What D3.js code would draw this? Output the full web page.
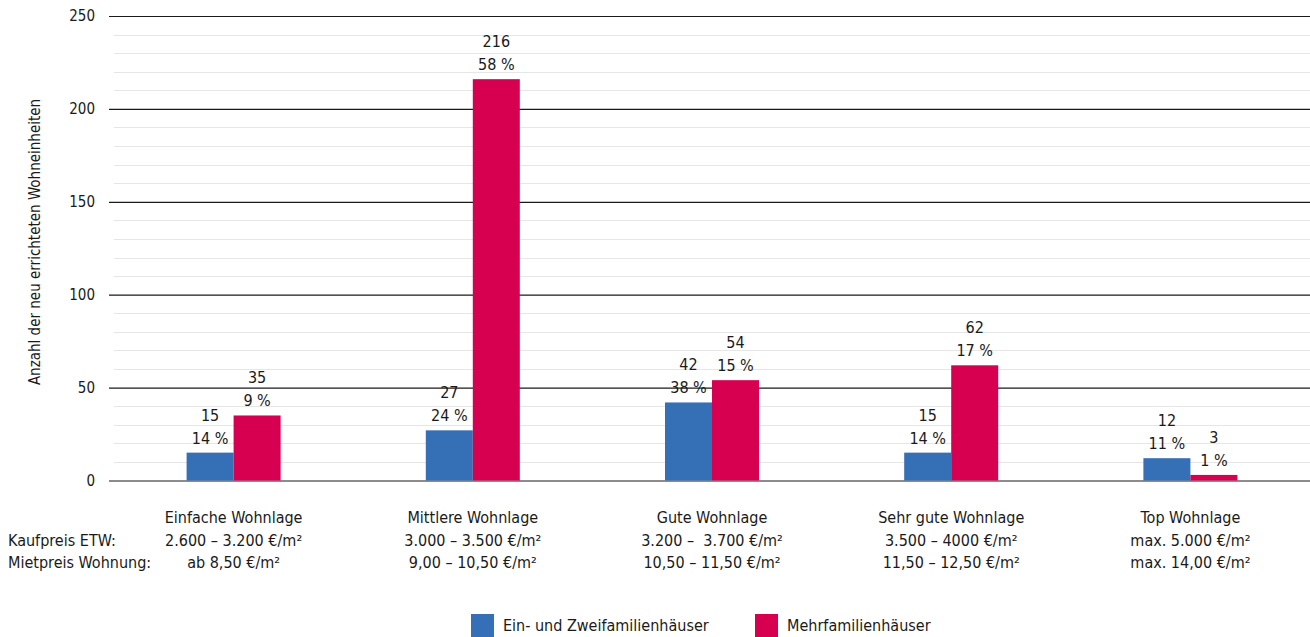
<!DOCTYPE html>
<html><head><meta charset="utf-8">
<script src="https://cdn.jsdelivr.net/npm/d3@7"></script>
<style>
body{margin:0;background:#fff;}
text{font-family:"Liberation Sans Narrow","Arial Narrow","DejaVu Sans Condensed",sans-serif;fill:#1a1a1a;white-space:pre;}
</style></head><body>
<svg id="c" width="1310" height="637"></svg>
<script>
const categories = ["Einfache Wohnlage","Mittlere Wohnlage","Gute Wohnlage","Sehr gute Wohnlage","Top Wohnlage"];
const kaufpreis = ["2.600 – 3.200 €/m²","3.000 – 3.500 €/m²","3.200 –  3.700 €/m²","3.500 – 4000 €/m²","max. 5.000 €/m²"];
const mietpreis = ["ab 8,50 €/m²","9,00 – 10,50 €/m²","10,50 – 11,50 €/m²","11,50 – 12,50 €/m²","max. 14,00 €/m²"];
const seriesNames = ["Ein- und Zweifamilienhäuser","Mehrfamilienhäuser"];
const einZwei = [15,27,42,15,12];
const einZweiPct = ["14 %","24 %","38 %","14 %","11 %"];
const mehr = [35,216,54,62,3];
const mehrPct = ["9 %","58 %","15 %","17 %","1 %"];
const yTicks = [0,50,100,150,200,250];
const colors = ["#356fb6","#d70050"];

const svg = d3.select("#c");
const y = d3.scaleLinear().domain([0,250]).range([480.5,16]);
const x = d3.scaleBand().domain(categories).range([114,1310]).paddingInner(0).paddingOuter(0);
const xs = d3.scaleBand().domain([0,1]).range([0,94]);

// minor gridlines
const minor = d3.range(10,250,10).filter(v=>v%50!==0);
svg.append("g").selectAll("line").data(minor).join("line")
  .attr("x1",114).attr("x2",1310).attr("y1",d=>Math.round(y(d))+0.5).attr("y2",d=>Math.round(y(d))+0.5)
  .attr("stroke","#e6e6e6").attr("stroke-width",1);

// major gridlines (axis)
const yAxis = d3.axisLeft(y).tickValues(yTicks).tickSize(-1201).tickPadding(14);
const ga = svg.append("g").attr("transform","translate(109,0)").call(yAxis);
ga.select(".domain").remove();
ga.selectAll(".tick line").attr("stroke","#1a1a1a").attr("stroke-width",1.2);
ga.selectAll(".tick text").attr("font-size",15).attr("fill","#1a1a1a")
  .attr("font-family",'"Liberation Sans Narrow","DejaVu Sans Condensed",sans-serif');

// bars
const data = categories.map((c,i)=>({c, vals:[
  {s:0,v:einZwei[i],p:einZweiPct[i]},{s:1,v:mehr[i],p:mehrPct[i]}]}));
const cx = c => x(c)+x.bandwidth()/2-47;
const gb = svg.append("g").selectAll("g").data(data).join("g")
  .attr("transform",d=>`translate(${cx(d.c)},0)`);
gb.selectAll("rect").data(d=>d.vals).join("rect")
  .attr("x",d=>xs(d.s)).attr("width",xs.bandwidth())
  .attr("y",d=>y(d.v)).attr("height",d=>y(0)-y(d.v))
  .attr("fill",d=>colors[d.s]);
gb.selectAll("text.v").data(d=>d.vals).join("text").attr("class","v")
  .attr("x",d=>xs(d.s)+xs.bandwidth()/2).attr("y",d=>y(d.v)-32)
  .attr("text-anchor","middle").attr("font-size",16).text(d=>d.v);
gb.selectAll("text.p").data(d=>d.vals).join("text").attr("class","p")
  .attr("x",d=>xs(d.s)+xs.bandwidth()/2).attr("y",d=>y(d.v)-9)
  .attr("text-anchor","middle").attr("font-size",16).text(d=>d.p);

// category labels
const gl = svg.append("g").selectAll("g").data(categories).join("g")
  .attr("transform",d=>`translate(${x(d)+x.bandwidth()/2},0)`);
gl.append("text").attr("y",523).attr("text-anchor","middle").attr("font-size",16).text(d=>d);
gl.append("text").attr("y",546).attr("text-anchor","middle").attr("font-size",16).text((d,i)=>kaufpreis[i]);
gl.append("text").attr("y",568).attr("text-anchor","middle").attr("font-size",16).text((d,i)=>mietpreis[i]);
svg.append("text").attr("x",8).attr("y",546).attr("font-size",16).text("Kaufpreis ETW:");
svg.append("text").attr("x",8).attr("y",568).attr("font-size",16).text("Mietpreis Wohnung:");

// y title
svg.append("text").attr("transform","translate(40,242) rotate(-90)").attr("text-anchor","middle")
  .attr("font-size",15).text("Anzahl der neu errichteten Wohneinheiten");

// legend
const legX = [471,755];
const lg = svg.append("g").selectAll("g").data(seriesNames).join("g")
  .attr("transform",(d,i)=>`translate(${legX[i]},614)`);
lg.append("rect").attr("width",23).attr("height",23).attr("fill",(d,i)=>colors[i]);
lg.append("text").attr("x",32).attr("y",17).attr("font-size",16).text(d=>d);
</script>
</body></html>
